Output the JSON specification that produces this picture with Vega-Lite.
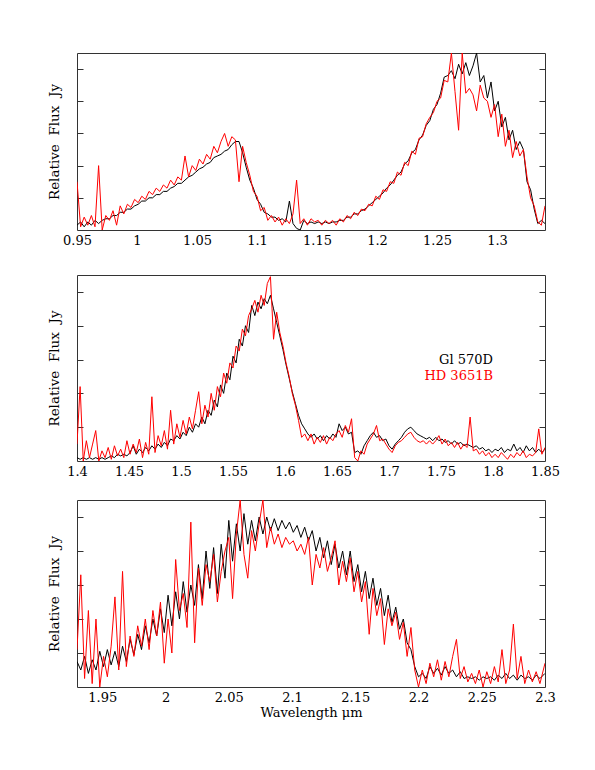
{
  "$schema": "https://vega.github.io/schema/vega-lite/v6.json",
  "padding": {"left": 47, "top": 52, "right": 5, "bottom": 5},
  "background": "white",
  "config": {
    "view": {"stroke": "#333", "strokeWidth": 1},
    "axis": {"grid": false, "domain": false, "tickColor": "#333", "tickWidth": 1, "labelFont": "DejaVu Serif", "labelFontSize": 13, "labelColor": "#000", "labelFlush": false, "labelOverlap": false, "labelPadding": 4, "titleFont": "DejaVu Serif", "titleFontSize": 13, "titleFontWeight": "normal", "titleColor": "#000"}
  },
  "datasets": {
    "j": [
      {"x":0.950,"a":0.03,"b":0.30},{"x":0.953,"a":0.05,"b":0.02},{"x":0.956,"a":0.02,"b":0.08},{"x":0.959,"a":0.05,"b":0.03},{"x":0.962,"a":0.03,"b":0.09},{"x":0.965,"a":0.06,"b":0.02},{"x":0.968,"a":0.04,"b":0.40},{"x":0.971,"a":0.06,"b":0.00},{"x":0.974,"a":0.07,"b":0.09},{"x":0.977,"a":0.07,"b":0.06},
      {"x":0.980,"a":0.09,"b":0.12},{"x":0.983,"a":0.09,"b":0.03},{"x":0.986,"a":0.11,"b":0.15},{"x":0.989,"a":0.11,"b":0.10},{"x":0.992,"a":0.13,"b":0.16},{"x":0.995,"a":0.13,"b":0.14},{"x":0.998,"a":0.15,"b":0.19},{"x":1.001,"a":0.16,"b":0.17},{"x":1.004,"a":0.18,"b":0.21},{"x":1.007,"a":0.18,"b":0.19},
      {"x":1.010,"a":0.20,"b":0.24},{"x":1.013,"a":0.20,"b":0.22},{"x":1.016,"a":0.22,"b":0.26},{"x":1.019,"a":0.22,"b":0.24},{"x":1.022,"a":0.24,"b":0.28},{"x":1.025,"a":0.24,"b":0.26},{"x":1.028,"a":0.26,"b":0.31},{"x":1.031,"a":0.27,"b":0.28},{"x":1.034,"a":0.29,"b":0.33},{"x":1.037,"a":0.29,"b":0.31},
      {"x":1.040,"a":0.31,"b":0.46},{"x":1.043,"a":0.33,"b":0.33},{"x":1.046,"a":0.34,"b":0.40},{"x":1.049,"a":0.36,"b":0.37},{"x":1.052,"a":0.38,"b":0.44},{"x":1.055,"a":0.39,"b":0.41},{"x":1.058,"a":0.41,"b":0.47},{"x":1.061,"a":0.42,"b":0.44},{"x":1.064,"a":0.45,"b":0.52},{"x":1.067,"a":0.46,"b":0.48},
      {"x":1.070,"a":0.47,"b":0.55},{"x":1.073,"a":0.49,"b":0.60},{"x":1.076,"a":0.50,"b":0.52},{"x":1.079,"a":0.53,"b":0.58},{"x":1.082,"a":0.55,"b":0.56},{"x":1.085,"a":0.55,"b":0.30},{"x":1.088,"a":0.48,"b":0.52},{"x":1.091,"a":0.39,"b":0.42},{"x":1.094,"a":0.31,"b":0.34},{"x":1.097,"a":0.26,"b":0.24},
      {"x":1.100,"a":0.19,"b":0.21},{"x":1.103,"a":0.16,"b":0.12},{"x":1.106,"a":0.11,"b":0.14},{"x":1.109,"a":0.10,"b":0.06},{"x":1.112,"a":0.08,"b":0.09},{"x":1.115,"a":0.08,"b":0.05},{"x":1.118,"a":0.06,"b":0.08},{"x":1.121,"a":0.07,"b":0.03},{"x":1.124,"a":0.05,"b":0.07},{"x":1.127,"a":0.18,"b":0.04},
      {"x":1.130,"a":0.04,"b":0.10},{"x":1.133,"a":0.01,"b":0.31},{"x":1.136,"a":0.00,"b":0.04},{"x":1.139,"a":0.06,"b":0.07},{"x":1.142,"a":0.04,"b":0.03},{"x":1.145,"a":0.05,"b":0.07},{"x":1.148,"a":0.04,"b":0.05},{"x":1.151,"a":0.05,"b":0.06},{"x":1.154,"a":0.04,"b":0.03},{"x":1.157,"a":0.05,"b":0.06},
      {"x":1.160,"a":0.04,"b":0.04},{"x":1.163,"a":0.05,"b":0.06},{"x":1.166,"a":0.05,"b":0.03},{"x":1.169,"a":0.06,"b":0.07},{"x":1.172,"a":0.06,"b":0.05},{"x":1.175,"a":0.08,"b":0.09},{"x":1.178,"a":0.08,"b":0.07},{"x":1.181,"a":0.10,"b":0.11},{"x":1.184,"a":0.10,"b":0.09},{"x":1.187,"a":0.12,"b":0.13},
      {"x":1.190,"a":0.13,"b":0.12},{"x":1.193,"a":0.15,"b":0.16},{"x":1.196,"a":0.17,"b":0.15},{"x":1.199,"a":0.19,"b":0.21},{"x":1.202,"a":0.21,"b":0.19},{"x":1.205,"a":0.23,"b":0.25},{"x":1.208,"a":0.26,"b":0.24},{"x":1.211,"a":0.28,"b":0.30},{"x":1.214,"a":0.31,"b":0.29},{"x":1.217,"a":0.34,"b":0.36},
      {"x":1.220,"a":0.36,"b":0.34},{"x":1.223,"a":0.41,"b":0.42},{"x":1.226,"a":0.43,"b":0.40},{"x":1.229,"a":0.48,"b":0.49},{"x":1.232,"a":0.50,"b":0.47},{"x":1.235,"a":0.56,"b":0.57},{"x":1.238,"a":0.59,"b":0.58},{"x":1.241,"a":0.65,"b":0.66},{"x":1.244,"a":0.68,"b":0.70},{"x":1.247,"a":0.75,"b":0.73},
      {"x":1.250,"a":0.78,"b":0.80},{"x":1.253,"a":0.85,"b":0.82},{"x":1.256,"a":0.95,"b":0.93},{"x":1.259,"a":0.96,"b":0.92},{"x":1.262,"a":0.99,"b":1.10},{"x":1.265,"a":0.94,"b":0.86},{"x":1.268,"a":1.03,"b":0.62},{"x":1.271,"a":0.97,"b":1.10},{"x":1.274,"a":1.04,"b":0.85},{"x":1.277,"a":0.96,"b":0.88},
      {"x":1.280,"a":1.02,"b":0.84},{"x":1.283,"a":1.10,"b":0.74},{"x":1.286,"a":0.92,"b":0.90},{"x":1.289,"a":0.96,"b":0.82},{"x":1.292,"a":0.82,"b":0.80},{"x":1.295,"a":0.92,"b":0.70},{"x":1.298,"a":0.74,"b":0.78},{"x":1.301,"a":0.80,"b":0.58},{"x":1.304,"a":0.64,"b":0.72},{"x":1.307,"a":0.70,"b":0.52},
      {"x":1.310,"a":0.56,"b":0.62},{"x":1.313,"a":0.62,"b":0.45},{"x":1.316,"a":0.50,"b":0.55},{"x":1.319,"a":0.55,"b":0.46},{"x":1.322,"a":0.50,"b":0.50},{"x":1.325,"a":0.30,"b":0.33},{"x":1.328,"a":0.25,"b":0.20},{"x":1.331,"a":0.13,"b":0.15},{"x":1.334,"a":0.04,"b":0.05},{"x":1.337,"a":0.06,"b":0.03},
      {"x":1.340,"a":0.04,"b":0.15}
    ],
    "h": [
      {"x":1.400,"a":0.02,"b":0.10},{"x":1.403,"a":0.01,"b":0.44},{"x":1.406,"a":0.02,"b":0.00},{"x":1.409,"a":0.01,"b":0.12},{"x":1.412,"a":0.02,"b":0.02},{"x":1.415,"a":0.01,"b":0.10},{"x":1.418,"a":0.02,"b":0.18},{"x":1.421,"a":0.01,"b":0.00},{"x":1.424,"a":0.02,"b":0.06},{"x":1.427,"a":0.01,"b":0.02},
      {"x":1.430,"a":0.02,"b":0.08},{"x":1.433,"a":0.03,"b":0.01},{"x":1.436,"a":0.02,"b":0.09},{"x":1.439,"a":0.04,"b":0.03},{"x":1.442,"a":0.03,"b":0.07},{"x":1.445,"a":0.04,"b":0.02},{"x":1.448,"a":0.03,"b":0.12},{"x":1.451,"a":0.05,"b":0.04},{"x":1.454,"a":0.09,"b":0.10},{"x":1.457,"a":0.04,"b":0.05},
      {"x":1.460,"a":0.07,"b":0.13},{"x":1.463,"a":0.05,"b":0.02},{"x":1.466,"a":0.08,"b":0.11},{"x":1.469,"a":0.06,"b":0.04},{"x":1.472,"a":0.09,"b":0.38},{"x":1.475,"a":0.07,"b":0.05},{"x":1.478,"a":0.10,"b":0.15},{"x":1.481,"a":0.08,"b":0.09},{"x":1.484,"a":0.11,"b":0.18},{"x":1.487,"a":0.09,"b":0.07},
      {"x":1.490,"a":0.13,"b":0.30},{"x":1.493,"a":0.12,"b":0.10},{"x":1.496,"a":0.15,"b":0.22},{"x":1.499,"a":0.13,"b":0.14},{"x":1.502,"a":0.17,"b":0.24},{"x":1.505,"a":0.15,"b":0.16},{"x":1.508,"a":0.20,"b":0.26},{"x":1.511,"a":0.17,"b":0.19},{"x":1.514,"a":0.22,"b":0.30},{"x":1.517,"a":0.20,"b":0.41},
      {"x":1.520,"a":0.26,"b":0.22},{"x":1.523,"a":0.22,"b":0.33},{"x":1.526,"a":0.30,"b":0.26},{"x":1.529,"a":0.27,"b":0.40},{"x":1.532,"a":0.36,"b":0.30},{"x":1.535,"a":0.32,"b":0.44},{"x":1.538,"a":0.45,"b":0.38},{"x":1.541,"a":0.40,"b":0.52},{"x":1.544,"a":0.52,"b":0.46},{"x":1.547,"a":0.48,"b":0.58},
      {"x":1.550,"a":0.62,"b":0.55},{"x":1.553,"a":0.58,"b":0.68},{"x":1.556,"a":0.72,"b":0.65},{"x":1.559,"a":0.68,"b":0.78},{"x":1.562,"a":0.80,"b":0.74},{"x":1.565,"a":0.76,"b":0.86},{"x":1.568,"a":0.92,"b":0.90},{"x":1.571,"a":0.86,"b":0.95},{"x":1.574,"a":0.94,"b":0.88},{"x":1.577,"a":0.90,"b":0.98},
      {"x":1.580,"a":0.96,"b":0.92},{"x":1.583,"a":0.93,"b":1.05},{"x":1.586,"a":0.98,"b":1.09},{"x":1.589,"a":0.90,"b":0.72},{"x":1.592,"a":0.82,"b":0.88},{"x":1.595,"a":0.74,"b":0.76},{"x":1.598,"a":0.66,"b":0.68},{"x":1.601,"a":0.57,"b":0.58},{"x":1.604,"a":0.49,"b":0.50},{"x":1.607,"a":0.41,"b":0.40},
      {"x":1.610,"a":0.34,"b":0.33},{"x":1.613,"a":0.27,"b":0.24},{"x":1.616,"a":0.22,"b":0.14},{"x":1.619,"a":0.19,"b":0.16},{"x":1.622,"a":0.16,"b":0.12},{"x":1.625,"a":0.14,"b":0.16},{"x":1.628,"a":0.16,"b":0.10},{"x":1.631,"a":0.13,"b":0.14},{"x":1.634,"a":0.15,"b":0.11},{"x":1.637,"a":0.12,"b":0.15},
      {"x":1.640,"a":0.15,"b":0.10},{"x":1.643,"a":0.13,"b":0.14},{"x":1.646,"a":0.16,"b":0.12},{"x":1.649,"a":0.14,"b":0.16},{"x":1.652,"a":0.22,"b":0.18},{"x":1.655,"a":0.18,"b":0.14},{"x":1.658,"a":0.20,"b":0.21},{"x":1.661,"a":0.16,"b":0.17},{"x":1.664,"a":0.17,"b":0.25},{"x":1.667,"a":0.05,"b":0.02},
      {"x":1.670,"a":0.06,"b":0.00},{"x":1.673,"a":0.04,"b":0.06},{"x":1.676,"a":0.09,"b":0.04},{"x":1.679,"a":0.12,"b":0.10},{"x":1.682,"a":0.15,"b":0.13},{"x":1.685,"a":0.17,"b":0.16},{"x":1.688,"a":0.14,"b":0.21},{"x":1.691,"a":0.15,"b":0.12},{"x":1.694,"a":0.12,"b":0.13},{"x":1.697,"a":0.13,"b":0.10},
      {"x":1.700,"a":0.09,"b":0.07},{"x":1.703,"a":0.07,"b":0.05},{"x":1.706,"a":0.10,"b":0.09},{"x":1.709,"a":0.12,"b":0.11},{"x":1.712,"a":0.14,"b":0.12},{"x":1.715,"a":0.17,"b":0.14},{"x":1.718,"a":0.19,"b":0.16},{"x":1.721,"a":0.20,"b":0.17},{"x":1.724,"a":0.18,"b":0.14},{"x":1.727,"a":0.16,"b":0.12},
      {"x":1.730,"a":0.15,"b":0.11},{"x":1.733,"a":0.14,"b":0.12},{"x":1.736,"a":0.13,"b":0.10},{"x":1.739,"a":0.14,"b":0.12},{"x":1.742,"a":0.12,"b":0.10},{"x":1.745,"a":0.14,"b":0.12},{"x":1.748,"a":0.12,"b":0.15},{"x":1.751,"a":0.13,"b":0.10},{"x":1.754,"a":0.11,"b":0.13},{"x":1.757,"a":0.12,"b":0.09},
      {"x":1.760,"a":0.10,"b":0.11},{"x":1.763,"a":0.12,"b":0.08},{"x":1.766,"a":0.10,"b":0.11},{"x":1.769,"a":0.11,"b":0.07},{"x":1.772,"a":0.09,"b":0.10},{"x":1.775,"a":0.10,"b":0.08},{"x":1.778,"a":0.09,"b":0.26},{"x":1.781,"a":0.08,"b":0.06},{"x":1.784,"a":0.09,"b":0.07},{"x":1.787,"a":0.07,"b":0.04},
      {"x":1.790,"a":0.08,"b":0.06},{"x":1.793,"a":0.06,"b":0.03},{"x":1.796,"a":0.07,"b":0.05},{"x":1.799,"a":0.05,"b":0.02},{"x":1.802,"a":0.07,"b":0.04},{"x":1.805,"a":0.06,"b":0.02},{"x":1.808,"a":0.08,"b":0.05},{"x":1.811,"a":0.05,"b":0.03},{"x":1.814,"a":0.07,"b":0.01},{"x":1.817,"a":0.06,"b":0.04},
      {"x":1.820,"a":0.10,"b":0.02},{"x":1.823,"a":0.06,"b":0.05},{"x":1.826,"a":0.08,"b":0.03},{"x":1.829,"a":0.05,"b":0.06},{"x":1.832,"a":0.09,"b":0.02},{"x":1.835,"a":0.06,"b":0.04},{"x":1.838,"a":0.08,"b":0.03},{"x":1.841,"a":0.05,"b":0.05},{"x":1.844,"a":0.07,"b":0.19},{"x":1.847,"a":0.05,"b":0.04},
      {"x":1.850,"a":0.07,"b":0.08}
    ],
    "k": [
      {"x":1.930,"a":0.15,"b":0.22},{"x":1.933,"a":0.10,"b":0.66},{"x":1.936,"a":0.18,"b":0.05},{"x":1.939,"a":0.08,"b":0.45},{"x":1.942,"a":0.16,"b":0.02},{"x":1.945,"a":0.10,"b":0.40},{"x":1.948,"a":0.21,"b":0.00},{"x":1.951,"a":0.12,"b":0.18},{"x":1.954,"a":0.22,"b":0.06},{"x":1.957,"a":0.13,"b":0.24},
      {"x":1.960,"a":0.21,"b":0.53},{"x":1.963,"a":0.12,"b":0.10},{"x":1.966,"a":0.24,"b":0.68},{"x":1.969,"a":0.15,"b":0.12},{"x":1.972,"a":0.28,"b":0.30},{"x":1.975,"a":0.19,"b":0.18},{"x":1.978,"a":0.31,"b":0.36},{"x":1.981,"a":0.22,"b":0.24},{"x":1.984,"a":0.36,"b":0.40},{"x":1.987,"a":0.26,"b":0.22},
      {"x":1.990,"a":0.40,"b":0.45},{"x":1.993,"a":0.30,"b":0.30},{"x":1.996,"a":0.46,"b":0.50},{"x":1.999,"a":0.32,"b":0.14},{"x":2.002,"a":0.54,"b":0.40},{"x":2.005,"a":0.36,"b":0.20},{"x":2.008,"a":0.56,"b":0.75},{"x":2.011,"a":0.40,"b":0.45},{"x":2.014,"a":0.62,"b":0.55},{"x":2.017,"a":0.44,"b":0.35},
      {"x":2.020,"a":0.60,"b":0.97},{"x":2.023,"a":0.48,"b":0.26},{"x":2.026,"a":0.72,"b":0.70},{"x":2.029,"a":0.52,"b":0.48},{"x":2.032,"a":0.80,"b":0.72},{"x":2.035,"a":0.58,"b":0.62},{"x":2.038,"a":0.82,"b":0.78},{"x":2.041,"a":0.55,"b":0.50},{"x":2.044,"a":0.84,"b":0.68},{"x":2.047,"a":0.64,"b":0.80},
      {"x":2.050,"a":0.98,"b":0.88},{"x":2.053,"a":0.74,"b":0.52},{"x":2.056,"a":0.96,"b":0.90},{"x":2.059,"a":0.80,"b":1.10},{"x":2.062,"a":1.02,"b":0.78},{"x":2.065,"a":0.84,"b":0.64},{"x":2.068,"a":0.98,"b":0.92},{"x":2.071,"a":0.86,"b":0.80},{"x":2.074,"a":1.00,"b":0.96},{"x":2.077,"a":0.90,"b":1.10},
      {"x":2.080,"a":1.00,"b":0.82},{"x":2.083,"a":0.92,"b":0.94},{"x":2.086,"a":0.99,"b":0.84},{"x":2.089,"a":0.92,"b":0.90},{"x":2.092,"a":0.98,"b":0.82},{"x":2.095,"a":0.93,"b":0.88},{"x":2.098,"a":0.97,"b":0.84},{"x":2.101,"a":0.91,"b":0.86},{"x":2.104,"a":0.95,"b":0.80},{"x":2.107,"a":0.88,"b":0.84},
      {"x":2.110,"a":0.94,"b":0.78},{"x":2.113,"a":0.86,"b":0.88},{"x":2.116,"a":0.92,"b":0.60},{"x":2.119,"a":0.80,"b":0.78},{"x":2.122,"a":0.88,"b":0.70},{"x":2.125,"a":0.76,"b":0.82},{"x":2.128,"a":0.86,"b":0.68},{"x":2.131,"a":0.72,"b":0.76},{"x":2.134,"a":0.84,"b":0.86},{"x":2.137,"a":0.70,"b":0.60},
      {"x":2.140,"a":0.80,"b":0.74},{"x":2.143,"a":0.66,"b":0.62},{"x":2.146,"a":0.80,"b":0.76},{"x":2.149,"a":0.62,"b":0.56},{"x":2.152,"a":0.72,"b":0.68},{"x":2.155,"a":0.56,"b":0.50},{"x":2.158,"a":0.68,"b":0.62},{"x":2.161,"a":0.52,"b":0.31},{"x":2.164,"a":0.64,"b":0.58},{"x":2.167,"a":0.48,"b":0.42},
      {"x":2.170,"a":0.58,"b":0.52},{"x":2.173,"a":0.42,"b":0.25},{"x":2.176,"a":0.54,"b":0.46},{"x":2.179,"a":0.38,"b":0.36},{"x":2.182,"a":0.47,"b":0.44},{"x":2.185,"a":0.34,"b":0.28},{"x":2.188,"a":0.40,"b":0.38},{"x":2.191,"a":0.26,"b":0.18},{"x":2.194,"a":0.22,"b":0.35},{"x":2.197,"a":0.12,"b":0.10},
      {"x":2.200,"a":0.06,"b":0.00},{"x":2.203,"a":0.08,"b":0.10},{"x":2.206,"a":0.05,"b":0.02},{"x":2.209,"a":0.12,"b":0.14},{"x":2.212,"a":0.08,"b":0.06},{"x":2.215,"a":0.11,"b":0.16},{"x":2.218,"a":0.07,"b":0.04},{"x":2.221,"a":0.12,"b":0.15},{"x":2.224,"a":0.08,"b":0.06},{"x":2.227,"a":0.10,"b":0.18},
      {"x":2.230,"a":0.06,"b":0.28},{"x":2.233,"a":0.09,"b":0.05},{"x":2.236,"a":0.05,"b":0.12},{"x":2.239,"a":0.06,"b":0.03},{"x":2.242,"a":0.05,"b":0.08},{"x":2.245,"a":0.06,"b":0.02},{"x":2.248,"a":0.04,"b":0.10},{"x":2.251,"a":0.06,"b":0.00},{"x":2.254,"a":0.05,"b":0.09},{"x":2.257,"a":0.06,"b":0.02},
      {"x":2.260,"a":0.04,"b":0.12},{"x":2.263,"a":0.07,"b":0.03},{"x":2.266,"a":0.05,"b":0.22},{"x":2.269,"a":0.08,"b":0.02},{"x":2.272,"a":0.05,"b":0.10},{"x":2.275,"a":0.07,"b":0.37},{"x":2.278,"a":0.04,"b":0.05},{"x":2.281,"a":0.07,"b":0.18},{"x":2.284,"a":0.05,"b":0.02},{"x":2.287,"a":0.06,"b":0.10},
      {"x":2.290,"a":0.04,"b":0.03},{"x":2.293,"a":0.07,"b":0.09},{"x":2.296,"a":0.05,"b":0.02},{"x":2.300,"a":0.08,"b":0.14}
    ],
    "legend": [
      {"x":1.8,"y":0.6,"t":"Gl 570D","s":"Gl 570D"},
      {"x":1.8,"y":0.5,"t":"HD 3651B","s":"HD 3651B"}
    ]
  },
  "spacing": 26,
  "vconcat": [
    {
      "width": 468, "height": 177,
      "resolve": {"axis": {"x": "independent", "y": "independent"}},
      "layer": [
        {"data": {"name": "j"}, "mark": {"type": "line", "color": "#000", "strokeWidth": 1, "clip": true},
         "encoding": {
           "x": {"field": "x", "type": "quantitative", "scale": {"domain": [0.95, 1.34], "nice": false, "zero": false},
                 "axis": {"orient": "bottom", "title": null, "tickSize": 0, "values": [0.95,0.96,0.97,0.98,0.99,1,1.01,1.02,1.03,1.04,1.05,1.06,1.07,1.08,1.09,1.1,1.11,1.12,1.13,1.14,1.15,1.16,1.17,1.18,1.19,1.2,1.21,1.22,1.23,1.24,1.25,1.26,1.27,1.28,1.29,1.3,1.31,1.32,1.33,1.34],
                          "labelExpr": "abs(datum.value*20 - round(datum.value*20)) < 0.001 ? format(datum.value, '~g') : ''",
                          "encode": {"ticks": {"update": {"y2": {"signal": "abs(datum.value*20 - round(datum.value*20)) < 0.001 ? -6 : -3"}}}}}},
           "y": {"field": "a", "type": "quantitative", "scale": {"domain": [0, 1.1], "nice": false, "zero": false},
                 "axis": {"orient": "left", "title": "Relative\u00a0\u00a0Flux\u00a0\u00a0Jy", "titleFontSize": 13.5, "titlePadding": 15, "labels": false, "tickSize": -6, "values": [0.2, 0.4, 0.6, 0.8, 1.0]}}
         }},
        {"data": {"name": "j"}, "mark": {"type": "line", "color": "#ff0000", "strokeWidth": 1, "clip": true},
         "encoding": {
           "x": {"field": "x", "type": "quantitative",
                 "axis": {"orient": "top", "title": null, "labels": false, "tickSize": 0, "values": [0.95,0.96,0.97,0.98,0.99,1,1.01,1.02,1.03,1.04,1.05,1.06,1.07,1.08,1.09,1.1,1.11,1.12,1.13,1.14,1.15,1.16,1.17,1.18,1.19,1.2,1.21,1.22,1.23,1.24,1.25,1.26,1.27,1.28,1.29,1.3,1.31,1.32,1.33,1.34],
                          "encode": {"ticks": {"update": {"y2": {"signal": "abs(datum.value*20 - round(datum.value*20)) < 0.001 ? 6 : 3"}}}}}},
           "y": {"field": "b", "type": "quantitative",
                 "axis": {"orient": "right", "title": null, "labels": false, "tickSize": -6, "values": [0.2, 0.4, 0.6, 0.8, 1.0]}}
         }}
      ]
    },
    {
      "spacing": 20,
      "vconcat": [
        {
          "width": 468, "height": 186,
          "resolve": {"axis": {"x": "independent", "y": "independent"}},
          "layer": [
            {"data": {"name": "h"}, "mark": {"type": "line", "color": "#000", "strokeWidth": 1, "clip": true},
             "encoding": {
               "x": {"field": "x", "type": "quantitative", "scale": {"domain": [1.4, 1.85], "nice": false, "zero": false},
                     "axis": {"orient": "bottom", "title": null, "tickSize": 0, "values": [1.4,1.41,1.42,1.43,1.44,1.45,1.46,1.47,1.48,1.49,1.5,1.51,1.52,1.53,1.54,1.55,1.56,1.57,1.58,1.59,1.6,1.61,1.62,1.63,1.64,1.65,1.66,1.67,1.68,1.69,1.7,1.71,1.72,1.73,1.74,1.75,1.76,1.77,1.78,1.79,1.8,1.81,1.82,1.83,1.84,1.85],
                              "labelExpr": "abs(datum.value*20 - round(datum.value*20)) < 0.001 ? format(datum.value, '~g') : ''",
                              "encode": {"ticks": {"update": {"y2": {"signal": "abs(datum.value*20 - round(datum.value*20)) < 0.001 ? -6 : -3"}}}}}},
               "y": {"field": "a", "type": "quantitative", "scale": {"domain": [0, 1.1], "nice": false, "zero": false},
                     "axis": {"orient": "left", "title": "Relative\u00a0\u00a0Flux\u00a0\u00a0Jy", "titleFontSize": 13.5, "titlePadding": 15, "labels": false, "tickSize": -6, "values": [0.2, 0.4, 0.6, 0.8, 1.0]}}
             }},
            {"data": {"name": "h"}, "mark": {"type": "line", "color": "#ff0000", "strokeWidth": 1, "clip": true},
             "encoding": {
               "x": {"field": "x", "type": "quantitative",
                     "axis": {"orient": "top", "title": null, "labels": false, "tickSize": 0, "values": [1.4,1.41,1.42,1.43,1.44,1.45,1.46,1.47,1.48,1.49,1.5,1.51,1.52,1.53,1.54,1.55,1.56,1.57,1.58,1.59,1.6,1.61,1.62,1.63,1.64,1.65,1.66,1.67,1.68,1.69,1.7,1.71,1.72,1.73,1.74,1.75,1.76,1.77,1.78,1.79,1.8,1.81,1.82,1.83,1.84,1.85],
                              "encode": {"ticks": {"update": {"y2": {"signal": "abs(datum.value*20 - round(datum.value*20)) < 0.001 ? 6 : 3"}}}}}},
               "y": {"field": "b", "type": "quantitative",
                     "axis": {"orient": "right", "title": null, "labels": false, "tickSize": -6, "values": [0.2, 0.4, 0.6, 0.8, 1.0]}}
             }},
            {"data": {"name": "legend"}, "mark": {"type": "text", "align": "right", "baseline": "middle", "font": "DejaVu Serif", "fontSize": 13},
             "encoding": {
               "x": {"field": "x", "type": "quantitative", "axis": null},
               "y": {"field": "y", "type": "quantitative", "axis": null},
               "text": {"field": "t"},
               "color": {"field": "s", "type": "nominal", "scale": {"domain": ["Gl 570D", "HD 3651B"], "range": ["#000000", "#ff0000"]}, "legend": null}
             }}
          ]
        },
        {
          "width": 468, "height": 187,
          "resolve": {"axis": {"x": "independent", "y": "independent"}},
          "layer": [
            {"data": {"name": "k"}, "mark": {"type": "line", "color": "#000", "strokeWidth": 1, "clip": true},
             "encoding": {
               "x": {"field": "x", "type": "quantitative", "scale": {"domain": [1.93, 2.3], "nice": false, "zero": false},
                     "axis": {"orient": "bottom", "title": "Wavelength μm", "titlePadding": 2, "tickSize": 0, "values": [1.93,1.94,1.95,1.96,1.97,1.98,1.99,2,2.01,2.02,2.03,2.04,2.05,2.06,2.07,2.08,2.09,2.1,2.11,2.12,2.13,2.14,2.15,2.16,2.17,2.18,2.19,2.2,2.21,2.22,2.23,2.24,2.25,2.26,2.27,2.28,2.29,2.3],
                              "labelExpr": "abs(datum.value*20 - round(datum.value*20)) < 0.001 ? format(datum.value, '~g') : ''",
                              "encode": {"ticks": {"update": {"y2": {"signal": "abs(datum.value*20 - round(datum.value*20)) < 0.001 ? -6 : -3"}}}}}},
               "y": {"field": "a", "type": "quantitative", "scale": {"domain": [0, 1.1], "nice": false, "zero": false},
                     "axis": {"orient": "left", "title": "Relative\u00a0\u00a0Flux\u00a0\u00a0Jy", "titleFontSize": 13.5, "titlePadding": 15, "labels": false, "tickSize": -6, "values": [0.2, 0.4, 0.6, 0.8, 1.0]}}
             }},
            {"data": {"name": "k"}, "mark": {"type": "line", "color": "#ff0000", "strokeWidth": 1, "clip": true},
             "encoding": {
               "x": {"field": "x", "type": "quantitative",
                     "axis": {"orient": "top", "title": null, "labels": false, "tickSize": 0, "values": [1.93,1.94,1.95,1.96,1.97,1.98,1.99,2,2.01,2.02,2.03,2.04,2.05,2.06,2.07,2.08,2.09,2.1,2.11,2.12,2.13,2.14,2.15,2.16,2.17,2.18,2.19,2.2,2.21,2.22,2.23,2.24,2.25,2.26,2.27,2.28,2.29,2.3],
                              "encode": {"ticks": {"update": {"y2": {"signal": "abs(datum.value*20 - round(datum.value*20)) < 0.001 ? 6 : 3"}}}}}},
               "y": {"field": "b", "type": "quantitative",
                     "axis": {"orient": "right", "title": null, "labels": false, "tickSize": -6, "values": [0.2, 0.4, 0.6, 0.8, 1.0]}}
             }}
          ]
        }
      ]
    }
  ]
}
